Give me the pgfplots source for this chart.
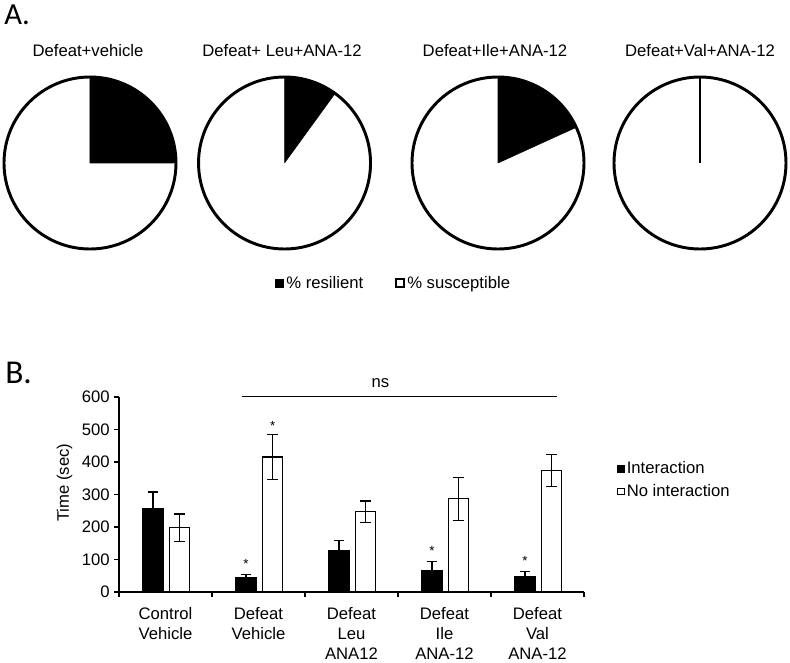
\documentclass[border=0pt]{standalone}
\usepackage{pgfplots}
\pgfplotsset{compat=1.18}
\usepgfplotslibrary{polar}
\usepackage{fontspec}
\setmainfont{Liberation Sans}
\newfontfamily\calib{Carlito}
\newcommand{\lbl}{\fontsize{12.5}{15}\selectfont}

\pgfplotsset{pie/.style={scale only axis, width=129pt, height=129pt, anchor=center,
  xmin=0, xmax=360, ymin=0, ymax=1, xtick=\empty, ytick=\empty, grid=none,
  hide y axis,
  axis line style={line width=2.2pt, black}, clip=false}}

\begin{document}
\begin{tikzpicture}
\path[use as bounding box] (0,0) rectangle (592.5pt,496.5pt);

% overlay frame in pixel units of the reference
\begin{axis}[at={(0pt,0pt)}, anchor=south west, scale only axis, width=592.5pt, height=496.5pt,
  xmin=0, xmax=790, ymin=0, ymax=662, hide axis, clip=false,
  legend style={at={(0.4987,0.5725)}, anchor=center, draw=none, fill=none, font=\lbl,
    legend columns=2, /tikz/every even column/.append style={column sep=22pt}},
  legend image code/.code={\draw[#1] (0pt,-3pt) rectangle (6pt,3pt);}]
\addlegendimage{black, fill=black}
\addlegendentry{\% resilient}
\addlegendimage{black, fill=white, line width=1pt}
\addlegendentry{\% susceptible}
\node[anchor=base west, inner sep=0, font=\calib\fontsize{23}{23}\selectfont] at (axis cs:4,637) {A.};
\node[anchor=base west, inner sep=0, font=\calib\fontsize{25}{25}\selectfont] at (axis cs:5,278) {B.};
\node[anchor=base, inner sep=0, font=\lbl] at (axis cs:88,605.3) {Defeat+vehicle};
\node[anchor=base, inner sep=0, font=\lbl] at (axis cs:282,605.3) {Defeat+ Leu+ANA-12};
\node[anchor=base, inner sep=0, font=\lbl] at (axis cs:495,605.3) {Defeat+Ile+ANA-12};
\node[anchor=base, inner sep=0, font=\lbl] at (axis cs:700,605.3) {Defeat+Val+ANA-12};
\end{axis}

% Pie 1: Defeat+vehicle, 25% resilient
\begin{polaraxis}[pie, at={(67.5pt,374.25pt)}]
\addplot[fill=black, draw=black] coordinates {(0,0) (90,1) (84,1) (78,1) (72,1) (66,1) (60,1) (54,1) (48,1) (42,1) (36,1) (30,1) (24,1) (18,1) (12,1) (6,1) (0,1) (0,0)};
\end{polaraxis}

% Pie 2: Leu, 10% resilient
\begin{polaraxis}[pie, at={(213.4pt,374.25pt)}]
\addplot[fill=black, draw=black] coordinates {(0,0) (90,1) (84,1) (78,1) (72,1) (66,1) (60,1) (54,1) (0,0)};
\end{polaraxis}

% Pie 3: Ile, 18.2% resilient
\begin{polaraxis}[pie, at={(373.5pt,374.25pt)}]
\addplot[fill=black, draw=black] coordinates {(0,0) (90,1) (84,1) (78,1) (72,1) (66,1) (60,1) (54,1) (48,1) (42,1) (36,1) (30,1) (24.5,1) (0,0)};
\end{polaraxis}

% Pie 4: Val, 0% resilient
\begin{polaraxis}[pie, at={(525pt,374.25pt)}]
\addplot[black, line width=1.5pt] coordinates {(90,0) (90,1)};
\end{polaraxis}

% Panel B
\begin{axis}[at={(89.25pt,52.5pt)}, anchor=south west, scale only axis, width=348.75pt, height=146.25pt,
  xmin=0.5, xmax=5.5, ymin=0, ymax=600,
  axis x line*=bottom, axis y line*=left, axis line style={line width=0.8pt, black, -},
  ytick={0,100,...,600},
  xtick={0.5,1.5,2.5,3.5,4.5,5.5}, xticklabels={},
  extra x ticks={1,2,3,4,5},
  extra x tick labels={Control\\Vehicle, Defeat\\Vehicle, Defeat\\Leu\\ANA12, Defeat\\Ile\\ANA-12, Defeat\\Val\\ANA-12},
  extra x tick style={major tick length=0pt, xticklabel style={align=center, font=\lbl, yshift=-8.25pt}},
  yticklabel style={font=\lbl},
  tick align=outside, major tick length=3.5pt,
  tick style={black, line width=0.8pt},
  /pgf/number format/assume math mode=true,
  ylabel={Time (sec)}, ylabel style={font=\lbl, at={(axis description cs:-0.117,0.56)}, anchor=center},
  ybar, clip=false,
  legend style={at={(1.062,0.574)}, anchor=west, draw=none, fill=none, font=\lbl,
    row sep=2.5pt, cells={anchor=west}, nodes={inner xsep=1.5pt}},
  legend cell align=left]
\addplot[ybar, bar width=16.2pt, bar shift=-9.4pt, fill=black, draw=black, line width=0.75pt,
  legend image code/.code={\draw[black, fill=black] (0pt,-2.5pt) rectangle (5pt,2.5pt);},
  error bars/.cd, y dir=both, y explicit, error bar style={line width=0.9pt, black},
  error mark options={rotate=90, black, line width=0.9pt, mark size=4pt}]
  coordinates {(1,257) +- (0,51) (2,44) +- (0,10) (3,128) +- (0,31) (4,67) +- (0,26) (5,48) +- (0,14)};
\addlegendentry{Interaction}
\addplot[ybar, bar width=14.8pt, bar shift=10.6pt, fill=white, draw=black, line width=1pt,
  legend image code/.code={\draw[black, fill=white, line width=0.8pt] (0pt,-2.5pt) rectangle (5pt,2.5pt);},
  error bars/.cd, y dir=both, y explicit, error bar style={line width=0.9pt, black},
  error mark options={rotate=90, black, line width=0.9pt, mark size=4pt}]
  coordinates {(1,198) +- (0,42) (2,415) +- (0,69) (3,247) +- (0,33) (4,287) +- (0,66) (5,374) +- (0,49)};
\addlegendentry{No interaction}
\draw[line width=1pt, black] (axis cs:1.82,602) -- (axis cs:5.21,602);
\node[font=\lbl] at (axis cs:3.31,644) {ns};
\node[font=\fontsize{10}{10}\selectfont, xshift=-9.4pt] at (axis cs:2,87) {*};
\node[font=\fontsize{10}{10}\selectfont, xshift=10.6pt] at (axis cs:2,512) {*};
\node[font=\fontsize{10}{10}\selectfont, xshift=-9.4pt] at (axis cs:4,125) {*};
\node[font=\fontsize{10}{10}\selectfont, xshift=-9.4pt] at (axis cs:5,97) {*};
\end{axis}
\end{tikzpicture}
\end{document}
